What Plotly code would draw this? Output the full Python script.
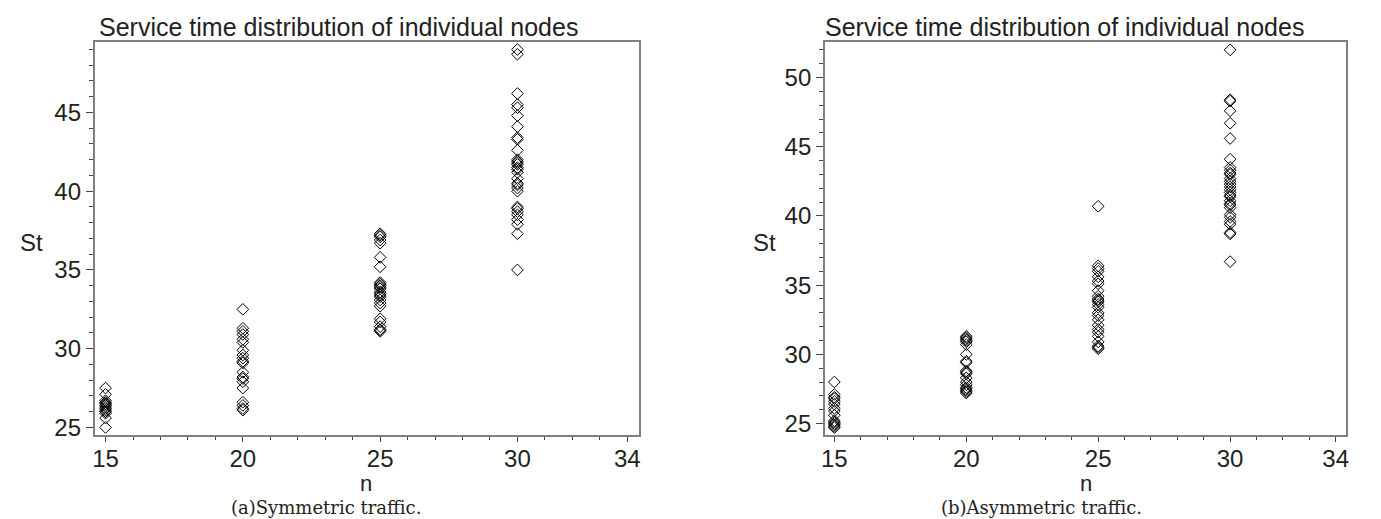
import plotly.graph_objects as go

# ---- data ----
n_values = [15, 20, 25, 30]

sym_15 = [27.5, 27.1, 26.7, 26.6, 26.5, 26.5, 26.4, 26.3, 26.2, 26.1, 26.0, 26.0, 25.9, 25.6, 25.0]
sym_20 = [32.5, 31.3, 31.1, 30.9, 30.6, 30.4, 29.9, 29.6, 29.4, 29.2, 29.1, 28.5, 28.2, 28.1,
          27.9, 27.5, 26.6, 26.4, 26.2, 26.1]
sym_25 = [37.3, 37.2, 37.1, 36.9, 36.7, 35.8, 35.2, 34.2, 34.1, 34.0, 33.9, 33.8, 33.6, 33.5,
          33.4, 33.3, 33.1, 32.9, 32.7, 31.9, 31.7, 31.4, 31.2, 31.2, 31.1]
sym_30 = [49.0, 48.7, 46.2, 45.5, 45.3, 44.8, 44.1, 43.4, 43.3, 42.6, 42.0, 41.9, 41.8, 41.7,
          41.5, 41.4, 41.2, 40.8, 40.5, 40.4, 40.2, 40.0, 39.0, 38.9, 38.7, 38.5, 38.2, 37.9,
          37.3, 35.0]

asym_15 = [28.0, 27.1, 26.9, 26.8, 26.6, 26.4, 26.1, 25.9, 25.6, 25.2, 25.1, 25.0, 24.9, 24.8, 24.7]
asym_20 = [31.3, 31.2, 31.1, 31.0, 30.9, 30.7, 30.0, 29.5, 29.4, 28.8, 28.7, 28.6, 28.3, 28.0,
           27.8, 27.6, 27.5, 27.4, 27.3, 27.2]
asym_25 = [40.7, 36.4, 36.2, 36.0, 35.6, 35.3, 35.1, 34.6, 34.2, 34.0, 33.9, 33.8, 33.6, 33.4,
           33.0, 32.8, 32.5, 32.1, 31.8, 31.6, 31.3, 30.9, 30.6, 30.5, 30.4]
asym_30 = [52.0, 48.4, 48.3, 47.6, 46.7, 45.6, 44.1, 43.5, 43.3, 43.1, 43.0, 42.7, 42.5, 42.3,
           42.1, 41.9, 41.7, 41.5, 41.4, 41.1, 40.9, 40.8, 40.6, 40.1, 39.9, 39.6, 39.4, 38.8,
           38.7, 36.7]

x_ticks = [15, 20, 25, 30, 34]
y_ticks_a = [25, 30, 35, 40, 45]
y_ticks_b = [25, 30, 35, 40, 45, 50]

title_text = "Service time distribution of individual nodes"
caption_a = "(a)Symmetric traffic."
caption_b = "(b)Asymmetric traffic."

sym_groups = [sym_15, sym_20, sym_25, sym_30]
asym_groups = [asym_15, asym_20, asym_25, asym_30]

W, H = 1381, 519

fig = go.Figure()

marker = dict(symbol="diamond-open", size=9, color="black", line=dict(width=1, color="black"))

for n, vals in zip(n_values, sym_groups):
    fig.add_trace(go.Scatter(x=[n] * len(vals), y=vals, mode="markers", marker=marker,
                             xaxis="x", yaxis="y", showlegend=False))
for n, vals in zip(n_values, asym_groups):
    fig.add_trace(go.Scatter(x=[n] * len(vals), y=vals, mode="markers", marker=marker,
                             xaxis="x2", yaxis="y2", showlegend=False))

sans = "Liberation Sans, Arial, sans-serif"
serif = "DejaVu Serif, Liberation Serif, serif"
tick_font = dict(family=sans, size=24, color="#222")

def xaxis(domain, rng, anchor):
    return dict(domain=domain, range=rng, anchor=anchor, tickvals=x_ticks,
                ticks="outside", ticklen=5, tickwidth=1, tickcolor="#444",
                ticklabelstandoff=-4,
                minor=dict(ticks="outside", ticklen=3, dtick=1, tick0=0, tickcolor="#444", tickwidth=1),
                showline=True, mirror=True, linecolor="#808080", linewidth=1.5,
                showgrid=False, zeroline=False, tickfont=tick_font)

def yaxis(domain, rng, anchor, tv):
    return dict(domain=domain, range=rng, anchor=anchor, tickvals=tv,
                ticks="outside", ticklen=7, tickwidth=1, tickcolor="#444",
                minor=dict(ticks="outside", ticklen=4, dtick=1, tick0=0, tickcolor="#444", tickwidth=1),
                showline=True, mirror=True, linecolor="#808080", linewidth=1.5,
                showgrid=False, zeroline=False, tickfont=tick_font)

ydom = [1 - 432 / H, 1 - 34 / H]
fig.update_layout(
    width=W, height=H,
    margin=dict(l=0, r=0, t=0, b=0),
    paper_bgcolor="white", plot_bgcolor="white",
    xaxis=xaxis([83 / W, 630 / W], [14.6, 34.42], "y"),
    yaxis=yaxis(ydom, [24.52, 49.5], "x", y_ticks_a),
    xaxis2=xaxis([817 / W, 1341 / W], [14.64, 34.4], "y2"),
    yaxis2=yaxis(ydom, [24.17, 52.6], "x2", y_ticks_b),
)

ann = []
for xt in [85, 815]:
    ann.append(dict(x=xt / W, y=1 - 19 / H, xref="paper", yref="paper", xanchor="left", yanchor="middle",
                    text=title_text, showarrow=False, font=dict(family=sans, size=25, color="#222")))
for xs in [20, 756]:
    ann.append(dict(x=xs / W, y=1 - 237 / H, xref="paper", yref="paper", xanchor="center", yanchor="middle",
                    text="St", showarrow=False, font=dict(family=sans, size=24, color="#222")))
for xn in [356, 1079]:
    ann.append(dict(x=xn / W, y=1 - 481 / H, xref="paper", yref="paper", xanchor="center", yanchor="middle",
                    text="n", showarrow=False, font=dict(family=sans, size=22, color="#222")))
for xc, cap in [(316, caption_a), (1035, caption_b)]:
    ann.append(dict(x=xc / W, y=1 - 505 / H, xref="paper", yref="paper", xanchor="center", yanchor="middle",
                    text=cap, showarrow=False, font=dict(family=serif, size=18, color="#222")))
fig.update_layout(annotations=ann)

fig.write_html("out.html")
